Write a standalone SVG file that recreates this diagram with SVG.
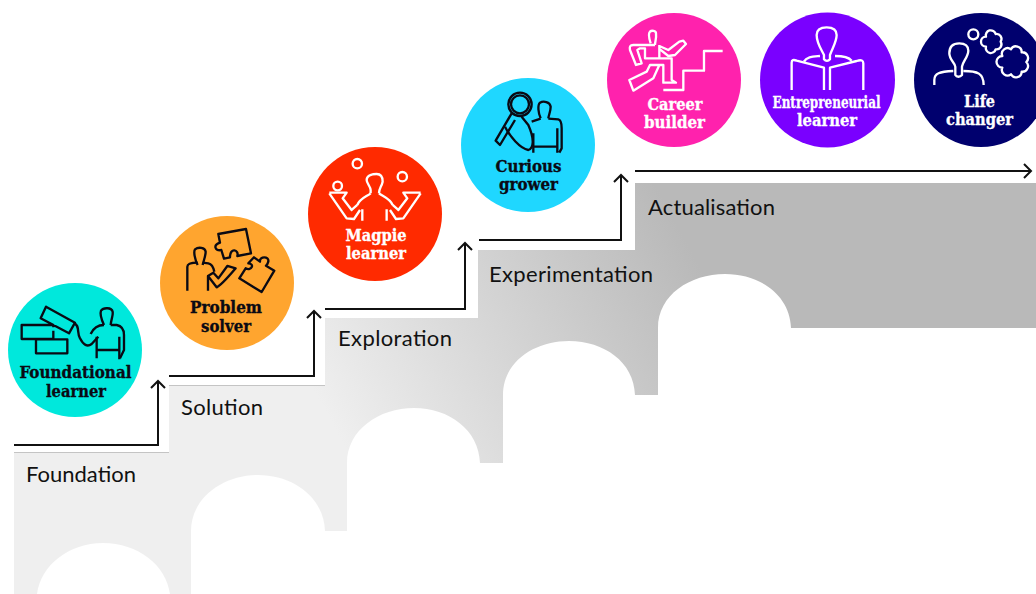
<svg xmlns="http://www.w3.org/2000/svg" width="1036" height="594" viewBox="0 0 1036 594">
<style>
.step{font-family:"Lato","Liberation Sans",sans-serif;font-size:22px;fill:#111}
.lab{font-family:"DejaVu Serif Condensed","DejaVu Serif",serif;font-weight:700;font-size:16px;text-anchor:middle;stroke-width:.3px}
.k{fill:#0a0a14;stroke:#0a0a14}.w{fill:#fff;stroke:#fff}
.ik{fill:none;stroke:#0a0a14;stroke-width:7;stroke-linejoin:round;stroke-linecap:butt}
.iw{fill:none;stroke:#fff;stroke-width:7;stroke-linejoin:round;stroke-linecap:butt}
.conn{fill:none;stroke:#111;stroke-width:2;marker-end:url(#a)}
</style>
<defs>
<linearGradient id="g" gradientUnits="userSpaceOnUse" x1="330" y1="420" x2="680" y2="230">
<stop offset="0" stop-color="#efefef"/><stop offset="1" stop-color="#b9b9b9"/>
</linearGradient>
<marker id="a" markerUnits="userSpaceOnUse" markerWidth="16" markerHeight="16" refX="13" refY="8" orient="auto">
<path d="M6,1 L13,8 L6,15" fill="none" stroke="#111" stroke-width="2"/>
</marker>
</defs>
<path id="stairs" fill="url(#g)" d="M14,452 H169 V385 H325 V318 H478 V250 H635 V183 H1036 V328 H791 C790,295 760,274 725,274 C690,274 658,295 658,328 V395 H635 C634,362 604,341 569,341 C534,341 503,362 503,395 V463 H480 C479,430 449,408 414,408 C379,408 347,430 347,463 V531 H325 C324,498 294,475 258,475 C223,475 191,498 191,531 V594 H170 C166,565 138,543 103,543 C69,543 41,565 37,594 H14 Z"/>
<path d="M14,452.500 H169 M169,385.500 H325" stroke="#c4c4c4" fill="none"/>
<g id="connectors">
<path class="conn" d="M14,445 H158 V381"/>
<path class="conn" d="M169,376 H314 V311"/>
<path class="conn" d="M325,309 H465 V243"/>
<path class="conn" d="M479,240 H621 V175"/>
<path class="conn" d="M635,171 H1031"/>
</g>
<g id="label-foundation"><text class="step" x="26" y="482" textLength="110">Foundation</text></g>
<g id="label-solution"><text class="step" x="181" y="415" textLength="82">Solution</text></g>
<g id="label-exploration"><text class="step" x="338" y="346" textLength="114">Exploration</text></g>
<g id="label-experimentation"><text class="step" x="489" y="282" textLength="164">Experimentation</text></g>
<g id="label-actualisation"><text class="step" x="648" y="215" textLength="127">Actualisation</text></g>

<g id="foundational-learner">
<circle cx="75" cy="350" r="67" fill="#00e8dc"/>
<g class="ik" transform="translate(0,270) scale(.3333)">
<path d="M138,110 L225,158 L207,190 L122,145 Z M160,172 V165 H65 V207 H160 V182 M108,208 V250 H202 V208 H108"/>
<path d="M312,165 C305,150 300,130 303,122 C310,112 335,112 338,125 C340,135 333,150 332,165"/>
<path d="M272,192 C280,175 295,165 312,165 M332,165 L350,165 C365,168 372,178 372,195 V240 L360,265"/>
<path d="M222,160 C240,165 230,190 240,205 C250,225 262,232 275,222 L295,200"/>
<path d="M290,200 V265 M358,200 V268 M290,240 H360"/>
</g>
<text class="lab k" x="75.500" y="378" textLength="112" lengthAdjust="spacingAndGlyphs">Foundational</text>
<text class="lab k" x="76" y="397" textLength="60" lengthAdjust="spacingAndGlyphs">learner</text>
</g>

<g id="problem-solver">
<circle cx="227" cy="283" r="67" fill="#ffa52f"/>
<g class="ik" transform="translate(150,150) scale(.3333)">
<path d="M205,252 L288,237 L303,310 L262,318 C268,300 240,290 240,322 L222,326 L214,300 C195,305 188,285 210,278 Z"/>
<path d="M312,322 L330,335 C328,318 358,318 355,335 C352,345 350,345 348,347 L373,362 L335,426 L268,385 L287,355 C305,365 315,340 295,340 Z"/>
<path d="M143,345 C135,330 130,305 135,298 C145,290 165,292 167,305 C167,318 160,335 158,345"/>
<path d="M112,422 V350 C112,340 130,338 143,338 M158,338 L175,340 C185,342 190,350 193,365"/>
<path d="M174,422 V378 L200,412 C215,405 240,375 257,355 L232,348 L205,385 L190,368 L174,378"/>
</g>
<text class="lab k" x="226" y="313" textLength="72" lengthAdjust="spacingAndGlyphs">Problem</text>
<text class="lab k" x="226" y="332" textLength="50" lengthAdjust="spacingAndGlyphs">solver</text>
</g>

<g id="magpie-learner">
<circle cx="375" cy="214" r="67" fill="#ff2a00"/>
<g class="iw" transform="translate(150,150) scale(.3333)">
<circle cx="622" cy="41" r="14"/><circle cx="757" cy="80" r="14"/><circle cx="563" cy="108" r="13"/>
<path d="M662,130 V120 C662,110 650,100 650,90 C650,75 670,72 680,72 C695,72 698,85 698,95 C695,110 687,115 687,130"/>
<path d="M622,165 C630,145 650,140 662,130 M687,130 C700,140 720,145 728,165"/>
<path d="M538,128 H590 L578,145 L605,180 L622,165 M538,130 L590,205 L612,207 L630,180"/>
<path d="M812,128 H760 L772,145 L745,180 L728,165 M812,130 L760,205 L738,207 L720,180"/>
<path d="M637,178 V212 M710,178 V212"/>
</g>
<text class="lab w" x="376" y="241" textLength="61" lengthAdjust="spacingAndGlyphs">Magpie</text>
<text class="lab w" x="376" y="259" textLength="60" lengthAdjust="spacingAndGlyphs">learner</text>
</g>

<g id="curious-grower">
<circle cx="528" cy="145" r="67" fill="#1fd7ff"/>
<g class="ik" transform="translate(450,70) scale(.3333)">
<circle cx="210" cy="103" r="35"/><circle cx="210" cy="103" r="27"/>
<path d="M185,130 L137,212 L150,225 L195,150"/>
<path d="M272,145 C265,130 262,105 270,98 C280,92 300,95 302,110 C302,125 296,135 295,145"/>
<path d="M245,155 L272,146 M295,146 L325,148 C335,150 335,165 335,175 V235 L328,248 M322,175 V248 M250,190 V248 M250,230 H322"/>
<path d="M165,170 C180,200 210,235 235,240 C250,235 255,210 235,165 L215,140"/>
</g>
<text class="lab k" x="528.500" y="172" textLength="66" lengthAdjust="spacingAndGlyphs">Curious</text>
<text class="lab k" x="528.500" y="190" textLength="59" lengthAdjust="spacingAndGlyphs">grower</text>
</g>

<g id="career-builder">
<circle cx="674" cy="80" r="67" fill="#ff22ad"/>
<g class="iw" transform="translate(600,0) scale(.3333)">
<path d="M190,270 H250 V212 H312 V153 H368"/>
<path d="M152,130 C147,115 145,100 150,95 C155,90 168,92 168,100 C170,115 165,125 165,135"/>
<path d="M165,135 H100 C90,135 88,140 90,150 L108,195 L125,190 L112,150 L120,145 H135 V175 H215 V240 L228,248 H190 V195 H150 L140,215 L88,240 L100,272 L160,235 L178,195"/>
<path d="M178,135 V175 M178,138 L205,150 L238,125 L250,122 L258,132 L225,165 L205,168 L180,148"/>
</g>
<text class="lab w" x="675" y="110" textLength="55" lengthAdjust="spacingAndGlyphs">Career</text>
<text class="lab w" x="674.500" y="128" textLength="61" lengthAdjust="spacingAndGlyphs">builder</text>
</g>

<g id="entrepreneurial-learner">
<circle cx="827.500" cy="80" r="67.500" fill="#7a00ff"/>
<g class="iw" transform="translate(600,0) scale(.3333)">
<path d="M672,178 V165 C665,150 650,130 650,105 C650,85 665,82 680,82 C700,82 710,90 710,105 C710,125 697,145 690,165 V178 C685,184 677,184 672,178 Z"/>
<path d="M575,270 V188 C575,180 580,178 590,182 L672,203 V270 M690,270 V203 L770,183 C785,178 790,182 790,190 V270"/>
<path d="M612,185 C620,170 640,170 660,168 M705,168 C725,168 745,170 755,182"/>
</g>
<text class="lab w" x="826.500" y="108" textLength="108" lengthAdjust="spacingAndGlyphs">Entrepreneurial</text>
<text class="lab w" x="827" y="126" textLength="60" lengthAdjust="spacingAndGlyphs">learner</text>
</g>

<g id="life-changer">
<circle cx="981" cy="80" r="67" fill="#00006e"/>
<g class="iw" transform="translate(836,0) scale(.3333)">
<circle cx="412" cy="103" r="15"/>
<path d="M494,125 A15,15 0 0 1 479,148 A15,15 0 0 1 450,140 A15,15 0 0 1 450,110 A15,15 0 0 1 479,102 A15,15 0 0 1 494,125 Z"/>
<path d="M571,186 A17,17 0 0 1 557,215 A17,17 0 0 1 525,223 A17,17 0 0 1 499,203 A17,17 0 0 1 499,168 A17,17 0 0 1 525,148 A17,17 0 0 1 557,157 A17,17 0 0 1 571,186 Z"/>
<path d="M358,225 V200 C358,190 340,180 340,160 C340,135 355,130 370,130 C390,130 397,140 397,152 C397,170 380,185 378,200 V225 C372,232 362,232 358,225 Z"/>
<path d="M295,255 V240 C295,220 310,215 352,213 M382,213 C425,213 443,220 443,255"/>
</g>
<text class="lab w" x="979.500" y="107" textLength="31" lengthAdjust="spacingAndGlyphs">Life</text>
<text class="lab w" x="979.500" y="125" textLength="67" lengthAdjust="spacingAndGlyphs">changer</text>
</g>
</svg>
